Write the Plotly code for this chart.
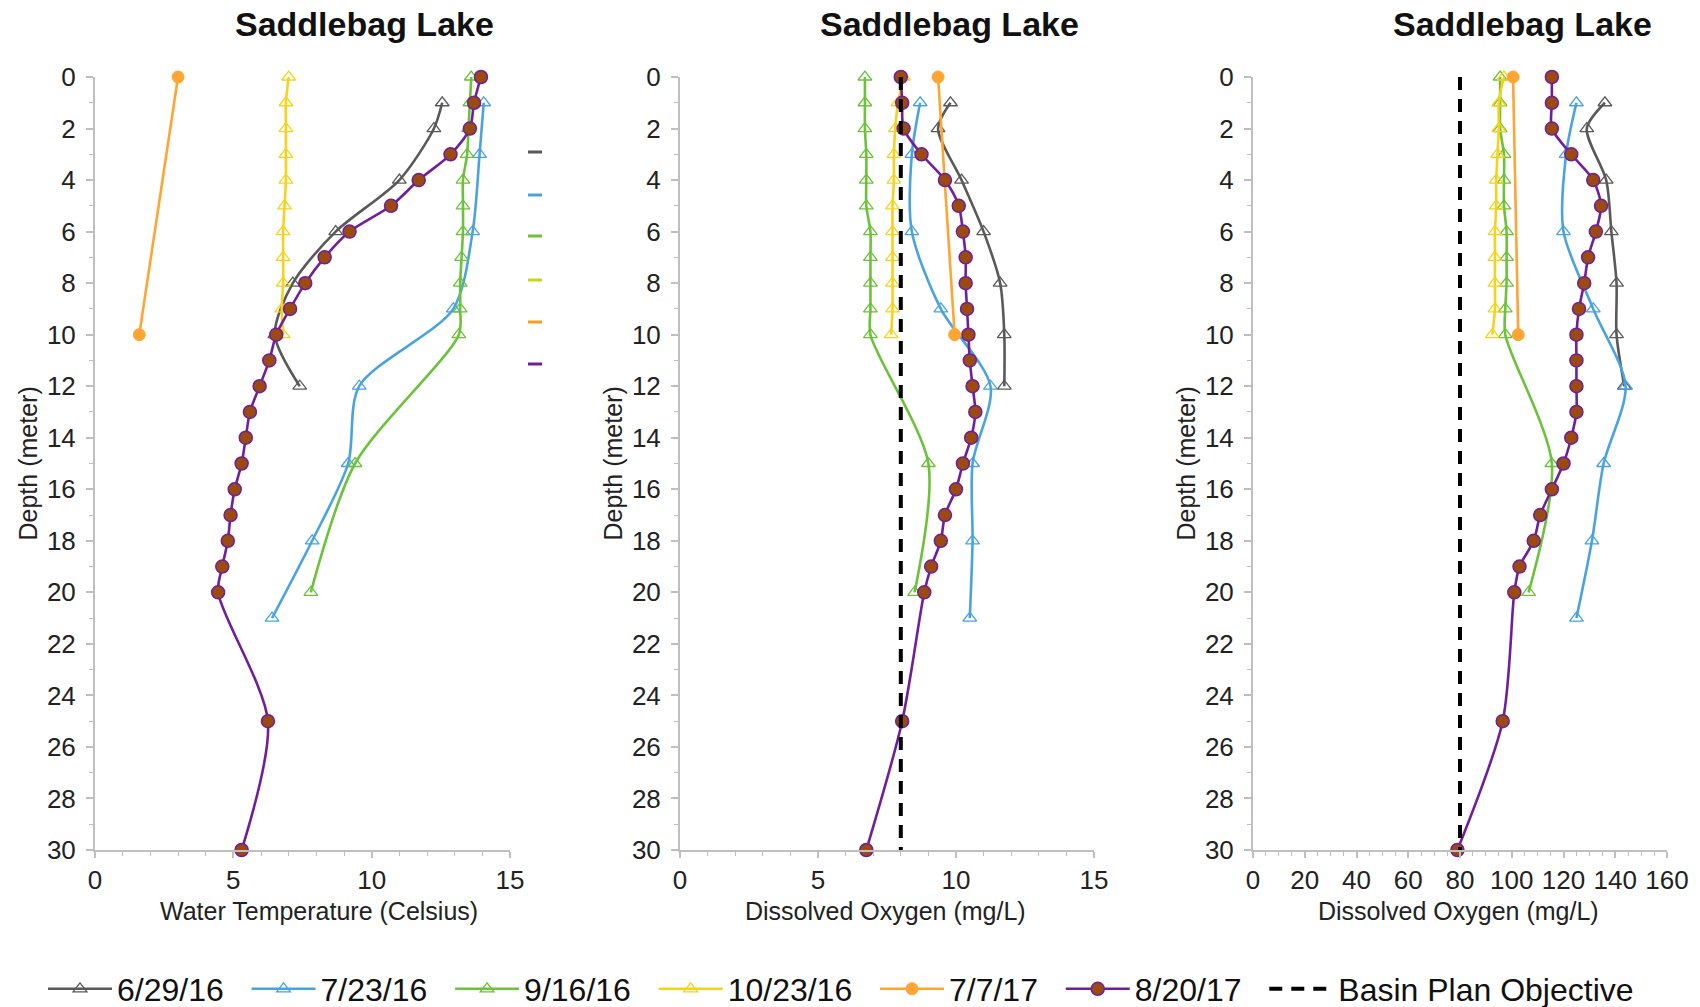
import plotly.graph_objects as go

# ---- depth profiles, Saddlebag Lake ----
dates = ["6/29/16", "7/23/16", "9/16/16", "10/23/16", "7/7/17", "8/20/17"]
colors = ["#595959", "#4aa3df", "#6cc23a", "#f5d31c", "#ffa533", "#6f1f9b"]

depth_0629 = [1, 2, 4, 6, 8, 10, 12]
depth_0723 = [1, 3, 6, 9, 12, 15, 18, 21]
depth_0916 = [0, 1, 2, 3, 4, 5, 6, 7, 8, 9, 10, 15, 20]
depth_1023 = [0, 1, 2, 3, 4, 5, 6, 7, 8, 9, 10]
depth_0707 = [0, 10]
depth_0820 = [0, 1, 2, 3, 4, 5, 6, 7, 8, 9, 10, 11, 12, 13, 14, 15, 16, 17, 18, 19, 20, 25, 30]

# water temperature (Celsius)
temp_0629 = [12.55, 12.25, 11.0, 8.7, 7.15, 6.5, 7.4]
temp_0723 = [14.05, 13.9, 13.65, 12.95, 9.55, 9.15, 7.85, 6.4]
temp_0916 = [13.6, 13.55, 13.5, 13.45, 13.3, 13.3, 13.3, 13.25, 13.2, 13.2, 13.15, 9.4, 7.8]
temp_1023 = [7.0, 6.9, 6.9, 6.9, 6.9, 6.85, 6.8, 6.8, 6.8, 6.75, 6.8]
temp_0707 = [3.0, 1.6]
temp_0820 = [13.95, 13.7, 13.55, 12.85, 11.7, 10.7, 9.2, 8.3, 7.6, 7.05, 6.55, 6.3, 5.95,
             5.6, 5.45, 5.3, 5.05, 4.9, 4.8, 4.6, 4.45, 6.25, 5.3]

# dissolved oxygen (mg/L)
do_0629 = [9.8, 9.35, 10.2, 11.0, 11.6, 11.75, 11.75]
do_0723 = [8.7, 8.4, 8.4, 9.45, 11.25, 10.6, 10.6, 10.5]
do_0916 = [6.7, 6.7, 6.7, 6.75, 6.75, 6.75, 6.9, 6.9, 6.9, 6.9, 6.9, 9.0, 8.5]
do_1023 = [8.1, 7.9, 7.8, 7.75, 7.75, 7.7, 7.7, 7.7, 7.7, 7.7, 7.65]
do_0707 = [9.35, 9.95]
do_0820 = [8.0, 8.05, 8.1, 8.75, 9.6, 10.1, 10.25, 10.35, 10.35, 10.4, 10.45, 10.5, 10.6,
           10.7, 10.55, 10.25, 10.0, 9.6, 9.45, 9.1, 8.85, 8.05, 6.75]

# dissolved oxygen, second scale
dos_0629 = [136.0, 129.0, 136.5, 138.5, 140.5, 140.5, 143.5]
dos_0723 = [125.0, 121.0, 120.0, 131.5, 144.0, 135.5, 131.0, 125.0]
dos_0916 = [95.5, 95.5, 95.5, 97.0, 97.0, 97.0, 98.0, 98.0, 98.0, 97.5, 97.5, 115.5, 106.5]
dos_1023 = [97.0, 95.0, 95.0, 94.5, 94.0, 94.0, 93.5, 93.5, 93.5, 93.5, 92.5]
dos_0707 = [100.5, 102.5]
dos_0820 = [115.5, 115.5, 115.5, 123.0, 131.5, 134.5, 132.5, 129.5, 128.0, 126.0, 125.0,
            125.0, 125.0, 125.0, 123.0, 120.0, 115.5, 111.0, 108.5, 103.0, 101.0, 96.5, 79.0]

objective_do = 8
objective_dos = 80
objective_depth = [0, 30]

depths = [depth_0629, depth_0723, depth_0916, depth_1023, depth_0707, depth_0820]
panels = [
    [temp_0629, temp_0723, temp_0916, temp_1023, temp_0707, temp_0820],
    [do_0629, do_0723, do_0916, do_1023, do_0707, do_0820],
    [dos_0629, dos_0723, dos_0916, dos_1023, dos_0707, dos_0820],
]

W, H = 1700, 1007
FONT = "Arial, Liberation Sans, sans-serif"
AXIS_GREY = "#bfbfbf"
ENTRY_PAD = "\u00a0\u00a0"   # breathing room after each legend entry

# plot areas in pixels: (left, right), shared top/bottom
x_px = [(95, 510), (680, 1094), (1253, 1667)]
top_px, bot_px = 77, 850
x_ranges = [[0, 15], [0, 15], [0, 160]]
x_dticks = [5, 5, 20]
x_minor = [1, 1, 5]
x_titles = ["Water Temperature (Celsius)", "Dissolved Oxygen (mg/L)", "Dissolved Oxygen (mg/L)"]


def px_x(p):
    return p / W


def px_y(p):
    return 1 - p / H


fig = go.Figure()

for s, name in enumerate(dates):
    for k in range(3):
        suffix = "" if k == 0 else str(k + 1)
        if name == "7/7/17":
            marker = dict(symbol="circle", size=12, color=colors[s],
                          line=dict(color=colors[s], width=1))
        elif name == "8/20/17":
            marker = dict(symbol="circle", size=13, color="#9b4a10",
                          line=dict(color=colors[s], width=1.5))
        else:
            marker = dict(symbol="triangle-up-open", size=12, color=colors[s],
                          line=dict(color=colors[s], width=1.3))
        fig.add_trace(go.Scatter(
            x=panels[k][s], y=depths[s], mode="lines+markers", name=name + ENTRY_PAD,
            legendgroup=name, showlegend=(k == 0),
            line=dict(color=colors[s], width=2.6, shape="spline", smoothing=0.8),
            marker=marker, cliponaxis=False,
            xaxis="x" + suffix, yaxis="y" + suffix,
        ))

for k, val in ((1, objective_do), (2, objective_dos)):
    suffix = str(k + 1)
    fig.add_trace(go.Scatter(
        x=[val, val], y=objective_depth, mode="lines", name="Basin Plan Objective",
        legendgroup="obj", showlegend=(k == 1),
        line=dict(color="black", width=4, dash="13px,9px"),
        xaxis="x" + suffix, yaxis="y" + suffix,
    ))

layout = dict(
    width=W, height=H, margin=dict(l=0, r=0, t=0, b=0, autoexpand=False),
    paper_bgcolor="white", plot_bgcolor="white",
    font=dict(family=FONT, color="#222222"),
    legend=dict(orientation="h", x=px_x(43), xanchor="left", y=px_y(989), yanchor="middle",
                font=dict(size=32, family=FONT, color="#111111"),
                itemwidth=64, tracegroupgap=0, bgcolor="rgba(0,0,0,0)"),
    annotations=[], shapes=[],
)

for k in range(3):
    suffix = "" if k == 0 else str(k + 1)
    l, r = x_px[k]
    layout["xaxis" + suffix] = dict(
        domain=[px_x(l), px_x(r)], range=x_ranges[k], dtick=x_dticks[k],
        anchor="y" + suffix, showgrid=False, zeroline=False,
        showline=True, linecolor=AXIS_GREY, linewidth=2,
        ticks="outside", ticklen=6, tickwidth=2, tickcolor=AXIS_GREY,
        minor=dict(ticks="outside", dtick=x_minor[k], ticklen=4, tickwidth=1, tickcolor=AXIS_GREY),
        tickfont=dict(size=26, family=FONT, color="#222222"),
        ticklabelstandoff=0,
    )
    layout["yaxis" + suffix] = dict(
        domain=[px_y(bot_px), px_y(top_px)], range=[30, 0], dtick=2,
        anchor="x" + suffix, showgrid=False, zeroline=False,
        showline=True, linecolor=AXIS_GREY, linewidth=2,
        ticks="outside", ticklen=7, tickwidth=2, tickcolor=AXIS_GREY,
        minor=dict(ticks="outside", dtick=1, ticklen=4, tickwidth=1, tickcolor=AXIS_GREY),
        tickfont=dict(size=26, family=FONT, color="#222222"),
        ticklabelstandoff=5,
    )
    # panel title, axis titles
    layout["annotations"].append(dict(
        text="<b>Saddlebag Lake</b>", x=px_x((l + r) / 2 + 62), y=px_y(24),
        xref="paper", yref="paper", showarrow=False, xanchor="center", yanchor="middle",
        font=dict(size=34, family=FONT, color="#111111")))
    layout["annotations"].append(dict(
        text=x_titles[k], x=px_x((l + r) / 2 + (16 if k == 0 else -2)), y=px_y(911),
        xref="paper", yref="paper", showarrow=False, xanchor="center", yanchor="middle",
        font=dict(size=25, family=FONT, color="#222222")))
    layout["annotations"].append(dict(
        text="Depth (meter)", x=px_x(l - 68), y=px_y((top_px + bot_px) / 2),
        xref="paper", yref="paper", showarrow=False, textangle=-90,
        xanchor="center", yanchor="middle",
        font=dict(size=25, family=FONT, color="#222222")))

# short coloured key dashes to the right of the first panel
key_colors = ["#595959", "#4aa3df", "#6cc23a", "#c8d61a", "#f5a01a", "#6f1f9b"]
key_y = [152, 195, 236, 280, 322, 364]
for c, yy in zip(key_colors, key_y):
    layout["shapes"].append(dict(type="line", xref="paper", yref="paper",
                                 x0=px_x(528), x1=px_x(542), y0=px_y(yy), y1=px_y(yy),
                                 line=dict(color=c, width=3)))

fig.update_layout(**layout)
fig.write_html("out.html")
